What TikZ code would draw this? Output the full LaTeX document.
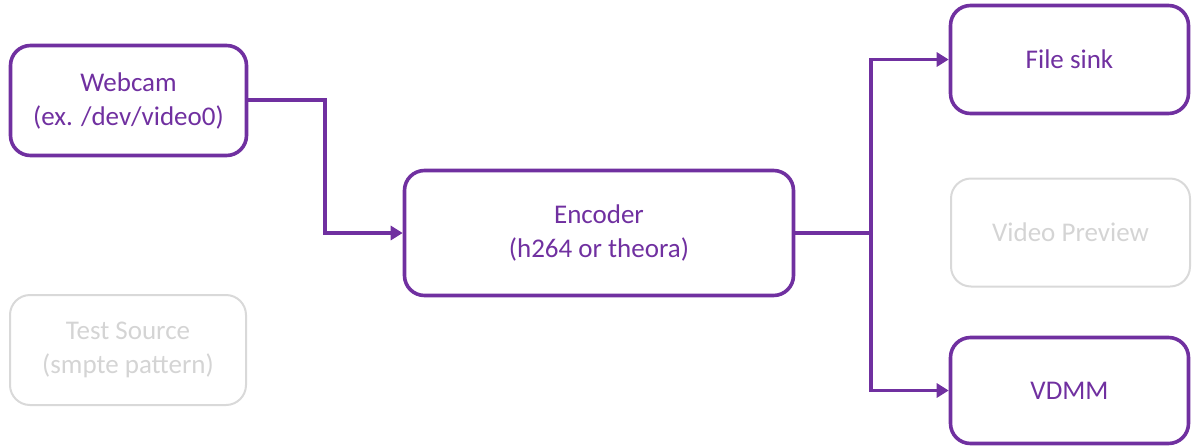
\documentclass[tikz,border=0pt]{standalone}
\usepackage{fontspec}
\setmainfont{Carlito}
\usetikzlibrary{arrows.meta}
\definecolor{vpurple}{HTML}{7030A0}
\definecolor{vgray}{HTML}{D9D9D9}
\definecolor{vgraytext}{HTML}{D4D4D4}
\begin{document}
\begin{tikzpicture}[x=1pt,y=-1pt,
  box/.style={draw=vpurple, line width=3.6pt, rounded corners=20pt, text=vpurple, align=center, inner sep=0pt, font=\fontsize{27}{34}\selectfont},
  dimbox/.style={draw=vgray, line width=2pt, rounded corners=20pt, text=vgraytext, align=center, inner sep=0pt, font=\fontsize{27}{34}\selectfont},
  conn/.style={vpurple, line width=3.6pt, -{Triangle[length=12pt,width=14pt]}}]
\useasboundingbox (0,0) rectangle (1192,445);
\node[box, minimum width=236pt, minimum height=110pt] (web) at (128.5,100.5) {Webcam\\(ex. /dev/video0)};
\node[dimbox, minimum width=236pt, minimum height=110pt] (test) at (128,350) {Test Source\\(smpte pattern)};
\node[box, minimum width=389pt, minimum height=125pt] (enc) at (599,233) {Encoder\\(h264 or theora)};
\node[box, minimum width=238pt, minimum height=108pt] (file) at (1069.5,59.5) {File sink};
\node[dimbox, minimum width=239pt, minimum height=108pt] (prev) at (1070.5,232.5) {Video Preview};
\node[box, minimum width=238pt, minimum height=106pt] (vdmm) at (1069.5,390.5) {VDMM};
\coordinate (j1) at (325,100);
\coordinate (j2) at (871,233);
\draw[conn] (web.east |- j1) -| (j1) |- (enc.west);
\draw[vpurple, line width=3.6pt] (enc.east) -- (j2);
\draw[conn] (j2) |- (file.west);
\draw[conn] (j2) |- (vdmm.west);
\end{tikzpicture}
\end{document}
